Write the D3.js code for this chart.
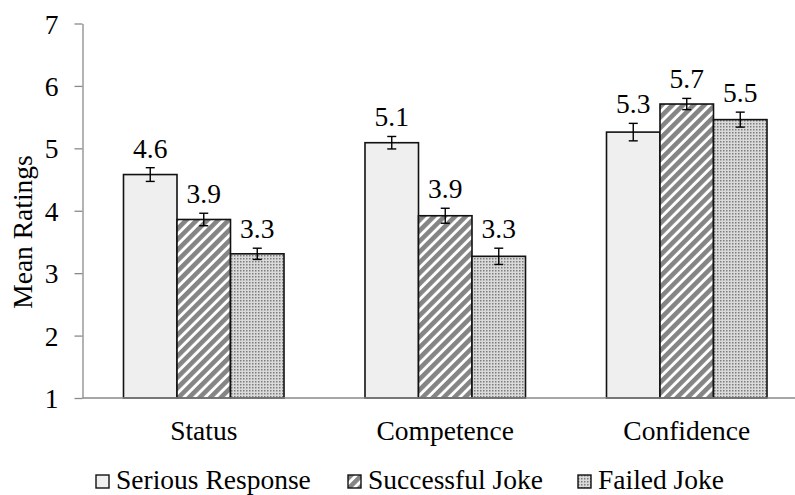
<!DOCTYPE html>
<html>
<head>
<meta charset="utf-8">
<script src="https://cdn.jsdelivr.net/npm/d3@7"></script>
<style>
  body { margin: 0; background: #fff; }
  svg { display: block; }
  text { font-family: "Times New Roman", "Liberation Serif", serif; fill: #000; }
</style>
</head>
<body>
<svg width="795" height="495"></svg>
<script>
var categories = ["Status", "Competence", "Confidence"];
var seriesNames = ["Serious Response", "Successful Joke", "Failed Joke"];
var seriousVals = [4.58, 5.09, 5.26];
var successVals = [3.86, 3.92, 5.71];
var failedVals = [3.31, 3.27, 5.46];
var seriousErr = [0.11, 0.10, 0.14];
var successErr = [0.10, 0.12, 0.09];
var failedErr = [0.09, 0.13, 0.12];
var labels = [["4.6", "3.9", "3.3"], ["5.1", "3.9", "3.3"], ["5.3", "5.7", "5.5"]];
var yTicks = [1, 2, 3, 4, 5, 6, 7];

var svg = d3.select("svg");
var fontSize = 27.5;

// fills
var defs = svg.append("defs");
var stripe = defs.append("pattern")
    .attr("id", "stripe")
    .attr("patternUnits", "userSpaceOnUse")
    .attr("width", 7.5)
    .attr("height", 8)
    .attr("patternTransform", "rotate(45)");
stripe.append("rect").attr("width", 7.5).attr("height", 8).attr("fill", "#fff");
stripe.append("rect").attr("width", 4.6).attr("height", 8).attr("fill", "#858585");

var dots = defs.append("pattern")
    .attr("id", "dots")
    .attr("patternUnits", "userSpaceOnUse")
    .attr("width", 3)
    .attr("height", 3);
dots.append("rect").attr("width", 3).attr("height", 3).attr("fill", "#dadada");
dots.append("rect").attr("width", 1.5).attr("height", 1.5).attr("fill", "#7c7c7c");

var fills = ["#efefef", "url(#stripe)", "url(#dots)"];

var y = d3.scaleLinear().domain([1, 7]).range([398, 23.5]);
var x0 = d3.scaleBand().domain(categories).range([83, 807.5]).padding(0);
var x1 = d3.scaleBand().domain(seriesNames).range([0, x0.bandwidth()])
    .paddingInner(0).paddingOuter(0.757);

var vals = [seriousVals, successVals, failedVals];
var errs = [seriousErr, successErr, failedErr];
var rows = [];
categories.forEach(function (c, i) {
    seriesNames.forEach(function (s, j) {
        rows.push({cat: c, ser: s, j: j, v: vals[j][i], e: errs[j][i], label: labels[i][j]});
    });
});

// y axis
var yAxis = svg.append("g")
    .attr("transform", "translate(82.5,0)")
    .call(d3.axisLeft(y).tickValues(yTicks).tickFormat(d3.format("d"))
        .tickSize(8).tickPadding(16).tickSizeOuter(0));
yAxis.attr("font-family", null).attr("font-size", null);
yAxis.select(".domain").attr("stroke", "#8a8a8a").attr("stroke-width", 1.3);
yAxis.selectAll(".tick line").attr("stroke", "#8a8a8a").attr("stroke-width", 1.3);
yAxis.selectAll(".tick text")
    .attr("font-size", fontSize)
    .attr("fill", "#000")
    .attr("dy", "0.35em");

svg.append("text")
    .attr("transform", "translate(32,232) rotate(-90)")
    .attr("text-anchor", "middle")
    .attr("font-size", fontSize)
    .text("Mean Ratings");

// bars
svg.append("g").selectAll("rect")
    .data(rows)
    .join("rect")
    .attr("x", function (d) { return x0(d.cat) + x1(d.ser); })
    .attr("y", function (d) { return y(d.v); })
    .attr("width", x1.bandwidth())
    .attr("height", function (d) { return y(1) - y(d.v); })
    .attr("fill", function (d) { return fills[d.j]; })
    .attr("stroke", "#111")
    .attr("stroke-width", 1.6);

// x axis line
svg.append("line")
    .attr("x1", 82.5).attr("x2", 807.5)
    .attr("y1", y(1)).attr("y2", y(1))
    .attr("stroke", "#8a8a8a").attr("stroke-width", 1.3);

// error bars
var eg = svg.append("g").attr("stroke", "#000").attr("stroke-width", 1.4);
rows.forEach(function (d) {
    var cx = x0(d.cat) + x1(d.ser) + x1.bandwidth() / 2;
    eg.append("line").attr("x1", cx).attr("x2", cx).attr("y1", y(d.v + d.e)).attr("y2", y(d.v - d.e));
    eg.append("line").attr("x1", cx - 4.5).attr("x2", cx + 4.5).attr("y1", y(d.v + d.e)).attr("y2", y(d.v + d.e));
    eg.append("line").attr("x1", cx - 4.5).attr("x2", cx + 4.5).attr("y1", y(d.v - d.e)).attr("y2", y(d.v - d.e));
});

// value labels
svg.append("g").selectAll("text")
    .data(rows)
    .join("text")
    .attr("x", function (d) { return x0(d.cat) + x1(d.ser) + x1.bandwidth() / 2; })
    .attr("y", function (d) { return y(d.v + d.e) - 10; })
    .attr("text-anchor", "middle")
    .attr("font-size", fontSize)
    .text(function (d) { return d.label; });

// category labels
svg.append("g").selectAll("text")
    .data(categories)
    .join("text")
    .attr("x", function (d) { return x0(d) + x0.bandwidth() / 2; })
    .attr("y", 440)
    .attr("text-anchor", "middle")
    .attr("font-size", fontSize)
    .text(function (d) { return d; });

// legend
var legX = [96, 348, 578];
var leg = svg.append("g").selectAll("g")
    .data(seriesNames)
    .join("g")
    .attr("transform", function (d, i) { return "translate(" + legX[i] + ",475)"; });
leg.append("rect")
    .attr("width", 13).attr("height", 13)
    .attr("fill", function (d, i) { return fills[i]; })
    .attr("stroke", "#111").attr("stroke-width", 1.4);
leg.append("text")
    .attr("x", 20).attr("y", 14)
    .attr("font-size", fontSize)
    .text(function (d) { return d; });
</script>
</body>
</html>
